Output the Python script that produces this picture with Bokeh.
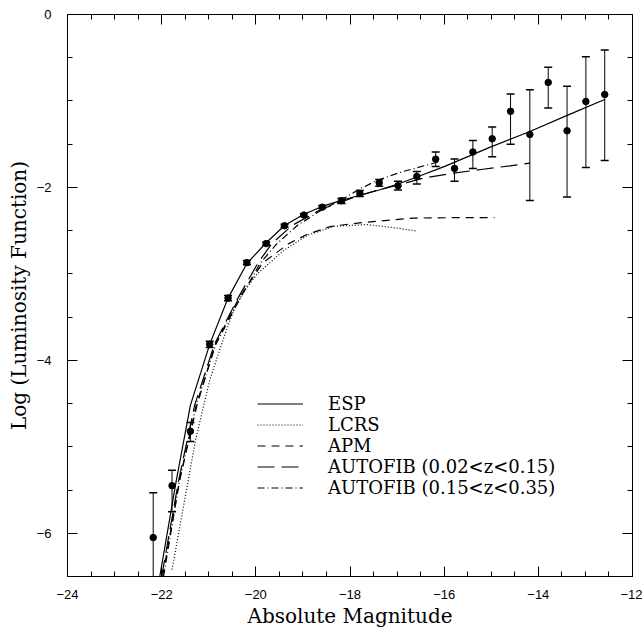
from bokeh.plotting import figure
from bokeh.models import (ColumnDataSource, Whisker, TeeHead, LinearAxis,
                          SingleIntervalTicker, Legend, LegendItem, Range1d)
from bokeh.embed import file_html
from bokeh.resources import INLINE

# ---- ESP data points (absolute magnitude, log LF, error bar limits) ----
esp_mag = [-22.18, -21.78, -21.39, -20.98, -20.59, -20.19, -19.78, -19.39, -18.98,
           -18.59, -18.18, -17.79, -17.38, -16.98, -16.58, -16.18, -15.78, -15.39,
           -14.98, -14.59, -14.18, -13.79, -13.39, -12.99, -12.59]
esp_logphi = [-6.05, -5.45, -4.82, -3.815, -3.28, -2.87, -2.65, -2.443, -2.32,
              -2.228, -2.154, -2.07, -1.946, -1.98, -1.873, -1.673, -1.78, -1.59,
              -1.437, -1.12, -1.387, -0.786, -1.345, -1.006, -0.925]
esp_lo = [-6.5, -5.75, -4.94, -3.85, -3.31, -2.895, -2.67, -2.46, -2.335,
          -2.245, -2.185, -2.105, -1.985, -2.03, -1.96, -1.757, -1.93, -1.78,
          -1.645, -1.50, -2.15, -1.08, -2.11, -1.77, -1.69]
esp_hi = [-5.53, -5.27, -4.72, -3.78, -3.25, -2.845, -2.63, -2.426, -2.305,
          -2.21, -2.124, -2.035, -1.907, -1.93, -1.815, -1.59, -1.67, -1.457,
          -1.30, -0.92, -0.87, -0.61, -0.83, -0.49, -0.41]

# ---- fitted luminosity functions ----
esp_fit_mag = [-22.04, -21.69, -21.39, -20.98, -20.59, -20.19, -19.78, -19.39, -18.98,
               -18.59, -18.18, -17.79, -17.38, -16.98, -16.58, -16.0, -15.02, -14.18,
               -13.4, -12.59]
esp_fit_log = [-6.5, -5.39, -4.52, -3.815, -3.28, -2.88, -2.64, -2.44, -2.31,
               -2.22, -2.15, -2.09, -2.03, -1.96, -1.88, -1.76, -1.534, -1.353,
               -1.17, -0.983]

lcrs_mag = [-21.78, -21.28, -20.98, -20.72, -20.47, -20.25, -19.97, -19.41, -18.91,
            -18.35, -17.64, -17.0, -16.58]
lcrs_log = [-6.42, -4.92, -4.23, -3.80, -3.42, -3.20, -3.00, -2.73, -2.555,
            -2.45, -2.43, -2.47, -2.505]

apm_mag = [-21.98, -21.62, -21.25, -20.86, -20.36, -19.85, -19.3, -18.9, -18.4,
           -17.8, -17.2, -16.65, -15.8, -14.93]
apm_log = [-6.5, -5.39, -4.52, -3.815, -3.28, -2.87, -2.65, -2.54, -2.45,
           -2.41, -2.38, -2.355, -2.35, -2.35]

af1_mag = [-22.0, -21.64, -21.30, -20.88, -20.38, -19.95, -19.66, -19.23, -18.6,
           -18.2, -17.78, -17.4, -16.9, -16.43, -15.8, -15.18, -14.6, -14.18]
af1_log = [-6.5, -5.39, -4.52, -3.815, -3.28, -2.87, -2.65, -2.44, -2.25,
           -2.17, -2.09, -2.03, -1.96, -1.89, -1.835, -1.79, -1.75, -1.72]

af2_mag = [-21.96, -21.62, -21.27, -20.85, -20.33, -19.90, -19.55, -19.12, -18.6,
           -18.2, -17.8, -17.43, -16.9, -16.29, -16.1]
af2_log = [-6.5, -5.39, -4.52, -3.815, -3.28, -2.87, -2.65, -2.44, -2.26,
           -2.15, -2.02, -1.92, -1.82, -1.73, -1.70]

legend_labels = ["ESP", "LCRS", "APM", "AUTOFIB (0.02<z<0.15)", "AUTOFIB (0.15<z<0.35)"]

x_lim = (-24, -12)
y_lim = (-6.5, 0)

p = figure(frame_width=565, frame_height=562, x_range=Range1d(*x_lim), y_range=Range1d(*y_lim),
           output_backend="svg", toolbar_location=None,
           min_border_left=67, min_border_right=10, min_border_top=14, min_border_bottom=55,
           x_axis_label="Absolute Magnitude", y_axis_label="Log (Luminosity Function)")
p.grid.visible = False
p.outline_line_color = "black"
p.outline_line_width = 1
p.background_fill_color = "white"
p.border_fill_color = "white"


def style_axis(ax, labels=True):
    ax.ticker = SingleIntervalTicker(interval=2, num_minor_ticks=4)
    ax.major_tick_in = 10
    ax.major_tick_out = 0
    ax.minor_tick_in = 5
    ax.minor_tick_out = 0
    ax.axis_line_color = "black"
    ax.major_tick_line_color = "black"
    ax.minor_tick_line_color = "black"
    ax.major_label_text_font = "Liberation Sans"
    if labels:
        ax.major_label_text_font_size = "13px"
        ax.major_label_text_color = "black"
    else:
        ax.major_label_text_font_size = "1px"
        ax.major_label_text_color = None
        ax.major_label_standoff = 0
    ax.axis_label_text_font = "DejaVu Serif"
    ax.axis_label_text_font_size = "20px"
    ax.axis_label_text_font_style = "normal"
    ax.axis_label_text_color = "black"


for ax in p.xaxis:
    style_axis(ax)
    ax.major_label_standoff = 13
    ax.axis_label_standoff = 2
for ax in p.yaxis:
    style_axis(ax)
    ax.major_label_standoff = 16
    ax.axis_label_standoff = 3

top_ax = LinearAxis()
style_axis(top_ax, labels=False)
p.add_layout(top_ax, "above")
right_ax = LinearAxis()
style_axis(right_ax, labels=False)
p.add_layout(right_ax, "right")

lw = 1.2
r_esp = p.line(esp_fit_mag, esp_fit_log, line_color="black", line_width=lw)
r_lcrs = p.line(lcrs_mag, lcrs_log, line_color="black", line_width=lw, line_dash="1 2")
r_apm = p.line(apm_mag, apm_log, line_color="black", line_width=lw, line_dash="8 6")
r_af1 = p.line(af1_mag, af1_log, line_color="black", line_width=lw, line_dash="17 7")
r_af2 = p.line(af2_mag, af2_log, line_color="black", line_width=lw, line_dash="7 3 1 3")

# error bars
src_main = ColumnDataSource(dict(x=esp_mag[1:], lo=esp_lo[1:], hi=esp_hi[1:]))
src_first = ColumnDataSource(dict(x=esp_mag[:1], lo=esp_lo[:1], hi=esp_hi[:1]))
p.add_layout(Whisker(base="x", lower="lo", upper="hi", source=src_main, dimension="height",
                     line_color="black", line_width=1,
                     upper_head=TeeHead(size=8, line_color="black", line_width=1.5),
                     lower_head=TeeHead(size=8, line_color="black", line_width=1.5)))
p.add_layout(Whisker(base="x", lower="lo", upper="hi", source=src_first, dimension="height",
                     line_color="black", line_width=1,
                     upper_head=TeeHead(size=8, line_color="black", line_width=1.5),
                     lower_head=None))
p.scatter(esp_mag, esp_logphi, size=6.5, color="black")

legend = Legend(items=[LegendItem(label=lab, renderers=[r]) for lab, r in
                       zip(legend_labels, [r_esp, r_lcrs, r_apm, r_af1, r_af2])],
                location=(190, 78), padding=0, margin=0, spacing=0,
                glyph_width=46, glyph_height=21, label_height=21, label_standoff=25,
                border_line_color=None, background_fill_alpha=0,
                label_text_font="DejaVu Serif", label_text_font_size="18px",
                label_text_color="black")
p.add_layout(legend)

open("out.html", "w").write(file_html(p, INLINE))
